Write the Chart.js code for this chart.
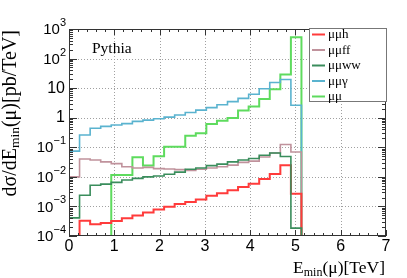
<!DOCTYPE html>
<html><head><meta charset="utf-8">
<script src="https://cdn.jsdelivr.net/npm/chart.js@4/dist/chart.umd.min.js"></script>
<style>html,body{margin:0;padding:0;background:#fff}#wrap{width:407px;height:278px}</style>
</head><body><div id="wrap"><canvas id="c" width="407" height="278"></canvas></div>
<script>
// bin edges (TeV)
const binEdges = [0,0.233,0.467,0.7,0.933,1.167,1.4,1.633,1.867,2.1,2.333,2.567,2.8,3.033,3.267,3.5,3.733,3.967,4.2,4.433,4.667,4.9,5.133,5.367,5.6,5.833,6.067,6.3,6.533,6.767,7];
const seriesNames = ["μμh","μμff","μμww","μμγ","μμ"];
const mumuh  = [0,3.3e-4,2.5e-4,2.75e-4,3.2e-4,4.0e-4,4.9e-4,6.2e-4,7.8e-4,9.8e-4,1.2e-3,1.42e-3,1.73e-3,2.3e-3,2.8e-3,3.5e-3,4.5e-3,5.9e-3,8.4e-3,1.25e-2,2.45e-2,2.7e-3,0,0,0,0,0,0,0,0];
const mumuff = [1.0e-2,4.0e-2,3.7e-2,3.2e-2,2.8e-2,2.2e-2,2.0e-2,2.1e-2,1.9e-2,1.85e-2,1.75e-2,1.65e-2,1.8e-2,2.0e-2,2.2e-2,2.5e-2,3.1e-2,3.4e-2,4.7e-2,6.4e-2,1.24e-1,6.9e-2,0,0,0,0,0,0,0,0];
const mumuww = [4.1e-4,2.4e-3,5.2e-3,5.7e-3,6.5e-3,7.8e-3,8.9e-3,1.0e-2,1.07e-2,1.23e-2,1.45e-2,1.8e-2,2.0e-2,2.4e-2,2.7e-2,3.2e-2,3.7e-2,4.2e-2,5.4e-2,6.4e-2,4.9e-2,1.85e-4,0,0,0,0,0,0,0,0];
const mumugam= [7.4e-2,0.26,0.44,0.51,0.57,0.63,0.75,0.83,0.92,1.05,1.23,1.5,1.8,2.2,2.75,3.5,4.5,6.2,9.5,15.5,19.5,2.65,0,0,0,0,0,0,0,0];
const mumu   = [0,0,0,0,1.15e-2,1.15e-2,4.6e-2,2.4e-2,5.0e-2,0.105,0.105,0.245,0.30,0.61,0.79,0.97,1.75,2.4,4.3,9.2,29,530,0,0,0,0,0,0,0,0];
const xTicks = [0,1,2,3,4,5,6,7];
const yDecades = [-4,-3,-2,-1,0,1,2,3];
const YMIN = 1e-4, YMAX = 1e3;

const colors = ["#ff3b3b","#c0929c","#3a8d5c","#5ab3cf","#5edb5e"];
const widths = [2,1.6,1.6,1.6,2];
const orders = [1,2,0,3,4];
const allVals = [mumuh,mumuff,mumuww,mumugam,mumu];

function toPoints(vals){
  const pts = vals.map((v,i)=>({x:binEdges[i], y: v>0 ? v : YMIN}));
  pts.push({x:binEdges[binEdges.length-1], y: vals[vals.length-1]>0 ? vals[vals.length-1] : YMIN});
  return pts;
}

const datasets = allVals.map((v,i)=>({
  label: seriesNames[i], data: toPoints(v), borderColor: colors[i], borderWidth: widths[i],
  stepped: true, pointRadius: 0, fill: false, order: orders[i], tension: 0
}));

const SERIF = '"Liberation Serif","Times New Roman",serif';
const SANS = '"Liberation Sans",Arial,sans-serif';

const rootAxes = {
  id: 'rootAxes',
  beforeDatasetsDraw(chart){
    const {ctx, chartArea:a, scales:{x,y}} = chart;
    ctx.save();
    ctx.strokeStyle = '#a0a0a0'; ctx.lineWidth = 1; ctx.setLineDash([1,2]);
    ctx.beginPath();
    for (const t of xTicks){
      if (t===0||t===7) continue;
      const px = Math.round(x.getPixelForValue(t))+0.5;
      ctx.moveTo(px,a.top); ctx.lineTo(px,a.bottom);
    }
    for (const d of yDecades){
      if (d===-4||d===3) continue;
      const py = Math.round(y.getPixelForValue(Math.pow(10,d)))+0.5;
      ctx.moveTo(a.left,py); ctx.lineTo(a.right,py);
    }
    ctx.stroke();
    ctx.restore();
  },
  afterDraw(chart){
    const {ctx, chartArea:a, scales:{x,y}} = chart;
    ctx.save();
    // frame
    ctx.strokeStyle = '#333'; ctx.lineWidth = 1;
    ctx.strokeRect(a.left+0.5, a.top+0.5, a.right-a.left-1, a.bottom-a.top-1);
    // x ticks
    ctx.beginPath();
    for (let i=0;i<=35;i++){
      const v = i*0.2; const major = (i%5===0);
      const px = Math.round(x.getPixelForValue(v))+0.5;
      const L = major?6:3;
      ctx.moveTo(px,a.bottom); ctx.lineTo(px,a.bottom-L);
      ctx.moveTo(px,a.top); ctx.lineTo(px,a.top+L);
    }
    // y ticks
    for (const d of yDecades){
      for (let k=1;k<=9;k++){
        if (d===3 && k>1) break;
        const v = k*Math.pow(10,d);
        const py = Math.round(y.getPixelForValue(v))+0.5;
        const L = k===1?8:4;
        ctx.moveTo(a.left,py); ctx.lineTo(a.left+L,py);
        ctx.moveTo(a.right,py); ctx.lineTo(a.right-L,py);
      }
    }
    ctx.stroke();
    // x labels
    ctx.fillStyle = '#000';
    ctx.font = '16px '+SANS; ctx.textAlign='center'; ctx.textBaseline='top';
    for (const t of xTicks){
      ctx.fillText(String(t), x.getPixelForValue(t), a.bottom+3);
    }
    // y labels
    ctx.textBaseline='middle'; ctx.textAlign='left';
    const right = 66;
    for (const d of yDecades){
      const py = y.getPixelForValue(Math.pow(10,d));
      if (d===0 || d===1){
        ctx.font = '16px '+SANS;
        const s = d===0?'1':'10';
        const w = ctx.measureText(s).width;
        ctx.fillText(s, right-1-w, py);
      } else {
        ctx.font = '15px '+SANS;
        const wb = ctx.measureText('10').width;
        ctx.font = '11px '+SANS;
        const es = d<0 ? '\u2212'+String(-d) : String(d);
        const we = ctx.measureText(es).width;
        const x0 = right - we - wb;
        ctx.font = '15px '+SANS;
        ctx.fillText('10', x0, py+1);
        ctx.font = '11px '+SANS;
        ctx.fillText(es, x0+wb, py-6);
      }
    }
    // x title
    ctx.textBaseline='alphabetic';
    {
      const parts = [['E',17.5,0],['min',12,3],['(μ)[TeV]',17.5,0]];
      let tot=0; for (const p of parts){ ctx.font=p[1]+'px '+SERIF; tot+=ctx.measureText(p[0]).width; }
      let cx = 385 - tot; const base = 273;
      for (const p of parts){ ctx.font=p[1]+'px '+SERIF; ctx.fillText(p[0],cx,base+p[2]); cx+=ctx.measureText(p[0]).width; }
    }
    // y title
    {
      ctx.save();
      ctx.translate(16, 30); ctx.rotate(-Math.PI/2);
      const parts = [['dσ/dE',20,0],['min',13.5,3],['(μ)[pb/TeV]',20,0]];
      let tot=0; for (const p of parts){ ctx.font=p[1]+'px '+SERIF; tot+=ctx.measureText(p[0]).width; }
      let cx = -tot;
      for (const p of parts){ ctx.font=p[1]+'px '+SERIF; ctx.fillText(p[0],cx,p[2]); cx+=ctx.measureText(p[0]).width; }
      ctx.restore();
    }
    // Pythia
    ctx.font = '15.5px '+SERIF; ctx.fillText('Pythia', 92, 53);
    // legend
    ctx.fillStyle='#fff';
    ctx.fillRect(309.5,28.5,77,73);
    ctx.strokeStyle='#777'; ctx.lineWidth=1;
    ctx.strokeRect(309.5,28.5,77,73);
    const ly = [34.5,50,65.5,81,96.5];
    chart.data.datasets.forEach((ds,i)=>{
      ctx.strokeStyle = ds.borderColor; ctx.lineWidth = 2;
      ctx.beginPath(); ctx.moveTo(312, ly[i]); ctx.lineTo(325, ly[i]); ctx.stroke();
      ctx.fillStyle = '#000'; ctx.font = '13px '+SERIF; ctx.textBaseline='alphabetic';
      ctx.fillText(ds.label, 328, ly[i]+3.5);
    });
    ctx.restore();
  }
};

new Chart(document.getElementById('c'), {
  type: 'line',
  data: { datasets },
  options: {
    responsive: false, animation: false, devicePixelRatio: 1,
    layout: { padding: { left: 69, top: 29, right: 21, bottom: 42 } },
    plugins: { legend: { display: false }, tooltip: { enabled: false } },
    scales: {
      x: { type: 'linear', min: 0, max: 7, display: false },
      y: { type: 'logarithmic', min: YMIN, max: YMAX, display: false }
    }
  },
  plugins: [rootAxes]
});
</script>
</body></html>
